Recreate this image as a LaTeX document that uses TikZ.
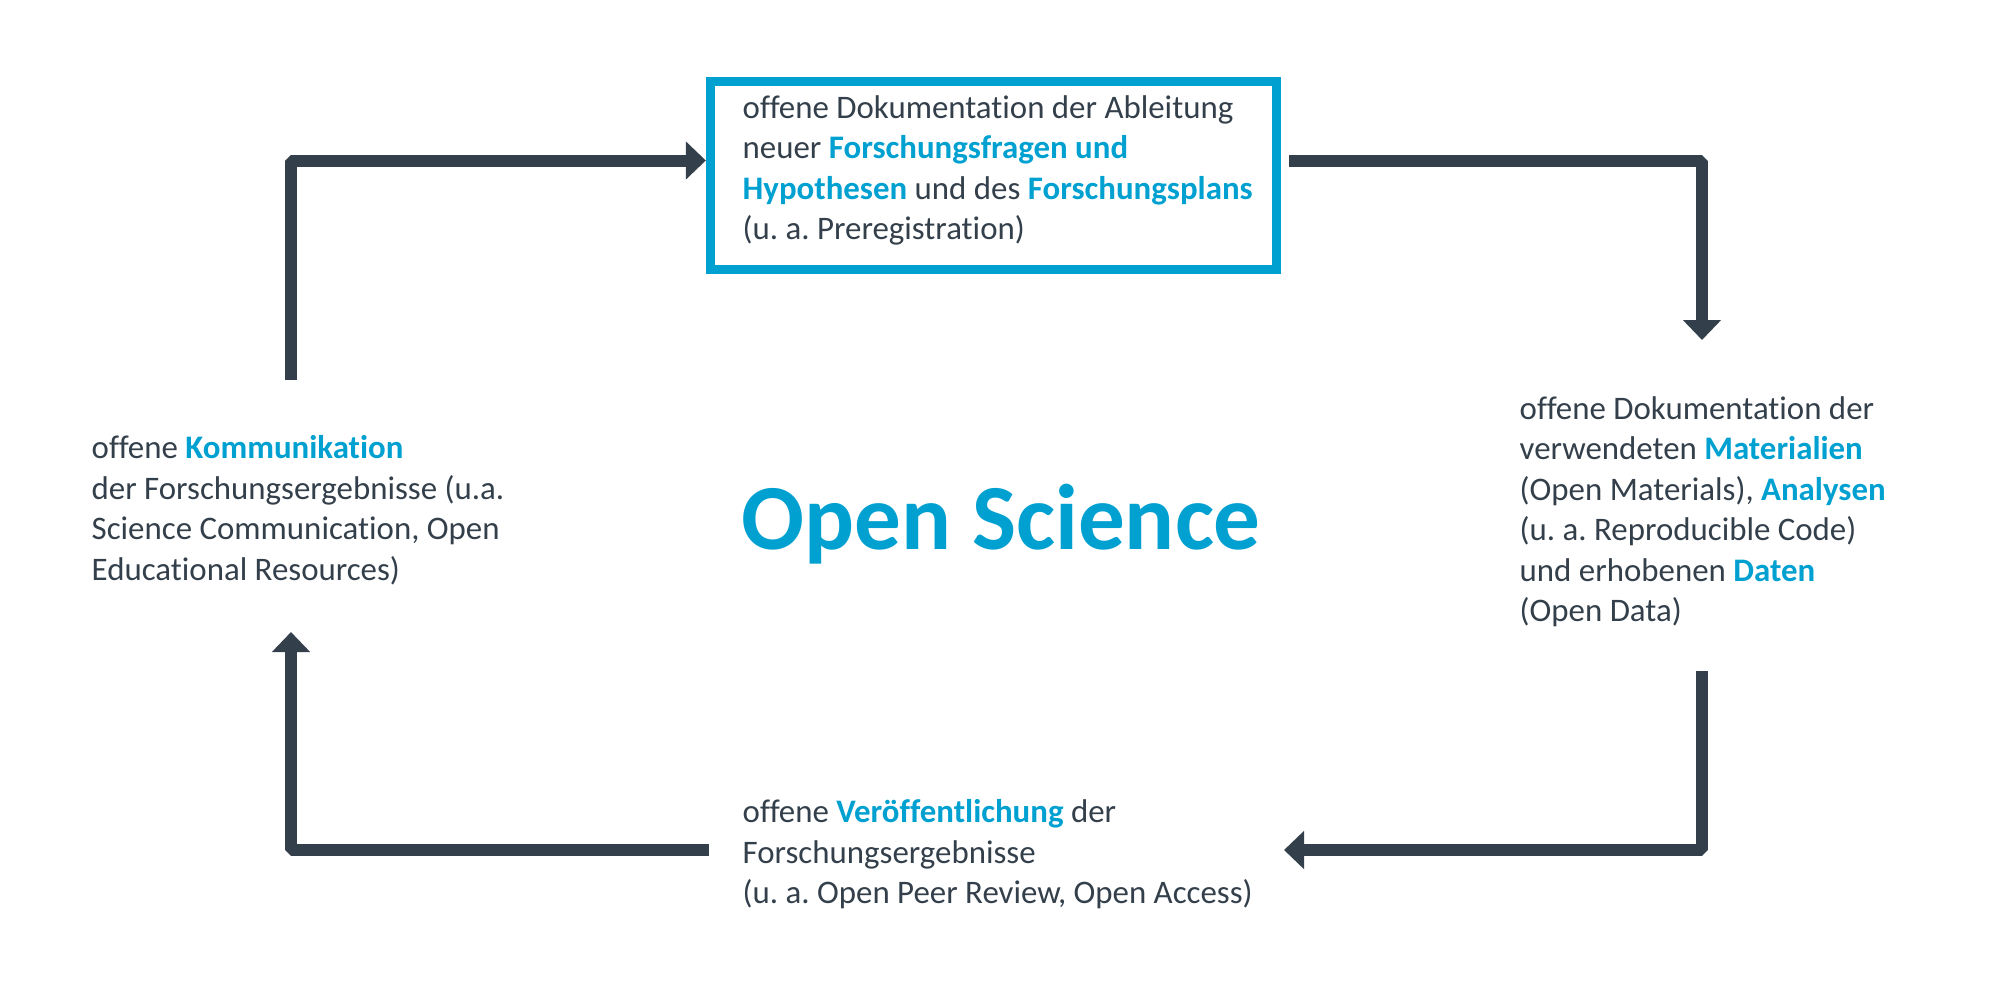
\documentclass[tikz,border=0pt]{standalone}
\usepackage{fontspec}
\setmainfont{Carlito}[Ligatures=NoCommon]
\usetikzlibrary{arrows.meta}
\definecolor{osgray}{HTML}{333F4A}
\definecolor{osblue}{HTML}{00A0D1}
\newcommand{\hl}[1]{\textbf{\color{osblue}#1}}
\frenchspacing

\begin{document}
\begin{tikzpicture}[x=0.01cm, y=-0.01cm,
    flow/.style={osgray, line width=0.12cm, line join=bevel, -{Triangle[length=0.2cm, width=0.37cm]}},
    station/.style={text=osgray, align=left, inner sep=0pt, anchor=north west, font=\fontsize{9.35pt}{11.5pt}\selectfont}]
\useasboundingbox (0,0) rectangle (2002,993);

% Stations
\node[draw=osblue, line width=0.09cm, minimum width=5.66cm, minimum height=1.88cm] (plan) at (993.5,175.5) {};
\node[station] (plantext) at (742,95)
  {offene Dokumentation der Ableitung\\ neuer \hl{Forschungsfragen und}\\ \hl{Hypothesen} und des \hl{Forschungsplans}\\ (u. a. Preregistration)};
\node[station] (mat) at (1519,396)
  {offene Dokumentation der\\ verwendeten \hl{Materialien}\\ (Open Materials), \hl{Analysen}\\ (u. a. Reproducible Code)\\ und erhobenen \hl{Daten}\\ (Open Data)};
\node[station] (pub) at (742,799)
  {offene \hl{Veröffentlichung} der\\ Forschungsergebnisse\\ (u. a. Open Peer Review, Open Access)};
\node[station] (komm) at (91,435)
  {offene \hl{Kommunikation}\\ der Forschungsergebnisse (u.a.\\ Science Communication, Open\\ Educational Resources)};

% Title
\node[text=osblue, inner sep=0pt, anchor=base, font=\bfseries\fontsize{26.5pt}{28pt}\selectfont] (os) at (1001,549) {Open Science};

% Free ends
\coordinate (kommout) at (291,380);
\coordinate (matin) at (1702,340);
\coordinate (matout) at (1702,671);
\coordinate (pubin) at (1284,850);
\coordinate (pubout) at (709,850);
\coordinate (kommin) at (291,632);

% Cycle
\draw[flow] (kommout) |- ([yshift=0.15cm]plan.west);
\draw[flow] ([xshift=0.08cm, yshift=0.15cm]plan.east) -| (matin);
\draw[flow] (matout) |- (pubin);
\draw[flow] (pubout) -| (kommin);
\end{tikzpicture}
\end{document}
